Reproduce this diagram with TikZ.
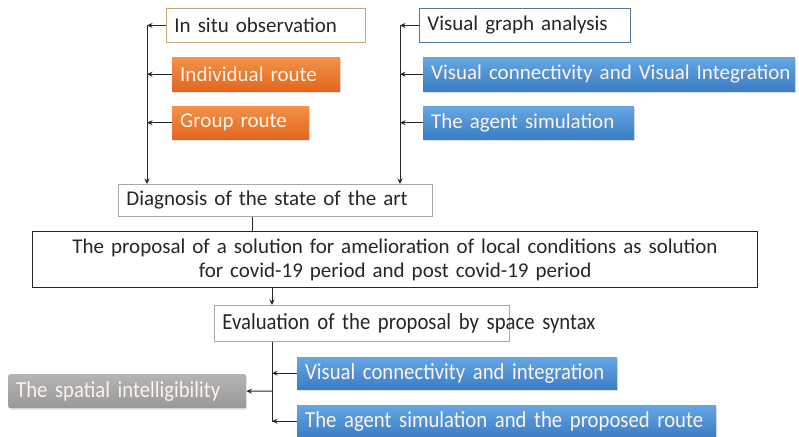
\documentclass[tikz,border=0pt]{standalone}
\usepackage{fontspec}
\setmainfont{Carlito}
\newfontfamily\narrowfont[FakeStretch=0.9]{Carlito}
\usetikzlibrary{arrows.meta,shadows}
\definecolor{orangeTop}{HTML}{F39248}
\definecolor{orangeBot}{HTML}{E2661E}
\definecolor{blueTop}{HTML}{66A6E2}
\definecolor{blueBot}{HTML}{3A7DC6}
\definecolor{grayTop}{HTML}{B4B4B4}
\definecolor{grayBot}{HTML}{989898}
\definecolor{tanLine}{HTML}{C9A77C}
\definecolor{slateLine}{HTML}{50789A}
\definecolor{lightLine}{HTML}{A8A8A8}
\definecolor{paleText}{HTML}{FDF3EA}
\tikzset{
  box/.style={anchor=north west, inner xsep=8pt, inner ysep=0pt, align=left,
    font=\fontsize{21}{24}\selectfont, text=black!85},
  tall/.style={font=\narrowfont\fontsize{23}{26}\selectfont},
  outlined/.style={box, draw=#1, fill=white, line width=0.9pt},
  filled/.style={box, top color=#1Top, bottom color=#1Bot, draw=none,
    text=paleText, drop shadow={opacity=0.25, shadow xshift=1pt, shadow yshift=-1.5pt}},
  arr/.style={-{Stealth[length=5.5pt,width=5pt]}, line width=1pt, black!85},
  plain/.style={line width=1pt, black!85},
}
\begin{document}
\begin{tikzpicture}[x=1pt,y=-1pt]
\useasboundingbox (0,0) rectangle (799,436);
% first analysis column
\node[outlined=tanLine, text width=183pt, minimum height=34pt] (insitu) at (166,8) {\mbox{In situ observation}};
\node[filled=orange, text width=152pt, minimum height=34pt] (indiv) at (172,57) {\mbox{Individual route}};
\node[filled=orange, text width=121pt, minimum height=33pt] (group) at (172,106) {\mbox{Group route}};
% second analysis column
\node[outlined=slateLine, text width=195pt, minimum height=34pt] (vga) at (419,8) {\mbox{Visual graph analysis}};
\node[filled=blue, text width=356pt, minimum height=34pt] (vcvi) at (423,57) {\mbox{Visual connectivity and Visual Integration}};
\node[filled=blue, text width=195pt, minimum height=33pt] (agent) at (423,106) {\mbox{The agent simulation}};
% diagnosis and proposal
\node[outlined=lightLine, text width=298pt, minimum height=32pt] (diag) at (118,184) {\mbox{Diagnosis of the state of the art}};
\node[box, draw=black!85, line width=1.2pt, text width=709pt, minimum height=56pt, align=center] (prop) at (32,231)
  {The proposal of a solution for amelioration of local conditions as solution\\for covid-19 period and post covid-19 period};
% evaluation
\node[outlined=lightLine, tall, text width=279pt, minimum height=36pt] (evalp) at (214,305) {\mbox{Evaluation of the proposal by space syntax}};
\node[filled=blue, tall, text width=304pt, minimum height=32pt] (vci) at (297,357) {\mbox{Visual connectivity and integration}};
\node[filled=blue, tall, text width=403pt, minimum height=32pt] (asr) at (297,405) {\mbox{The agent simulation and the proposed route}};
\node[filled=gray, tall, text width=222pt, minimum height=34pt, rounded corners=2pt] (spatial) at (8,374) {\mbox{The spatial intelligibility}};
% connectors
\coordinate (lcol) at (147,25);
\coordinate (rcol) at (400,25);
\coordinate (down1) at (252,0);
\coordinate (down2) at (272,0);
\coordinate (branch) at (272,422);
\coordinate (mid) at (272,391);
\draw[arr] (insitu.west) -- (insitu.west -| lcol);
\draw[arr] (indiv.west) -- (indiv.west -| lcol);
\draw[arr] (group.west) -- (group.west -| lcol);
\draw[arr] (lcol) -- (lcol |- diag.north);
\draw[arr] (vga.west) -- (vga.west -| rcol);
\draw[arr] (vcvi.west) -- (vcvi.west -| rcol);
\draw[arr] (agent.west) -- (agent.west -| rcol);
\draw[arr] (rcol) -- (rcol |- diag.north);
\draw[plain] (diag.south -| down1) -- (prop.north -| down1);
\draw[arr] (prop.south -| down2) -- (evalp.north -| down2);
\draw[plain] (evalp.south -| down2) -- (branch);
\draw[arr] (vci.west) -- (vci.west -| down2);
\draw[arr] (asr.west) -- (asr.west -| down2);
\draw[arr] (mid) -- (spatial.east);
\end{tikzpicture}
\end{document}
